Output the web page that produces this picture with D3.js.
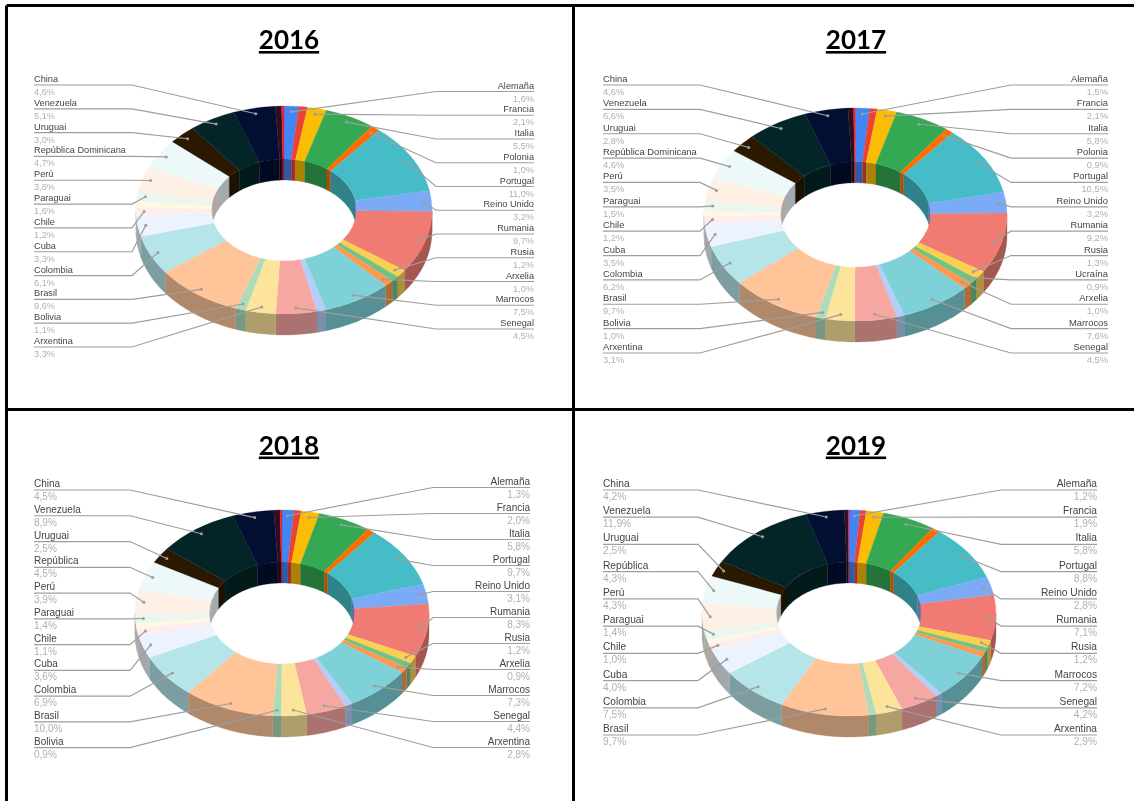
<!DOCTYPE html>
<html>
<head>
<meta charset="utf-8">
<script src="https://cdn.jsdelivr.net/npm/d3@7/dist/d3.min.js"></script>
<style>
  html, body { margin: 0; padding: 0; background: #fff; }
  svg { display: block; filter: blur(0.4px); }
  text { font-family: "Liberation Sans", Arial, sans-serif; }
  .title { font-family: Lato, sans-serif; font-weight: 700; font-size: 26px; text-decoration: underline; fill: #000; }
</style>
</head>
<body>
<svg id="chart" width="1134" height="801"></svg>
<script>
// Slices in drawing order. Slices without a name in the picture have a placeholder.
const categories = ["Alemaña","(sen etiqueta 1)","Francia","Italia","Polonia","Portugal","Reino Unido","Rumania","Rusia","Ucraína","Arxelia","Marrocos","(sen etiqueta 2)","Senegal","Arxentina","Bolivia","Brasil","Colombia","Cuba","Chile","(sen etiqueta 3)","Paraguai","Perú","República Dominicana","Uruguai","Venezuela","China","(sen etiqueta 4)","(sen etiqueta 5)"];
const sliceColors = ["#4285F4","#EA4335","#FBBC04","#34A853","#FF6D01","#46BDC6","#7BAAF7","#F07B72","#FCD04F","#71C287","#FF994D","#7ED1D7","#B3CEFB","#F7A7A1","#FDE49B","#AEDCBA","#FFC599","#B5E5E8","#ECF3FE","#FEEDEC","#FFF8E3","#EAF6EE","#FFF0E6","#EDF8F9","#2A1800","#042527","#020F33","#2E0F1E","#E8203A"];

const values2016 = [1.6,0.95,2.1,5.5,1.0,11.0,3.2,9.7,1.2,0.9,1.0,7.5,1.0,4.5,3.3,1.1,9.6,6.1,3.3,1.2,1.0,1.6,3.8,4.7,3.0,5.1,4.6,0.7,0.25];
const values2017 = [1.5,0.8,2.1,5.8,0.9,10.5,3.2,9.2,1.3,0.9,1.0,7.6,0.8,4.5,3.1,1.0,9.7,6.2,3.5,1.2,0.8,1.5,3.5,4.6,2.8,6.6,4.6,0.6,0.2];
const values2018 = [1.3,0.8,2.0,5.8,0.9,9.7,3.1,8.3,1.2,0.8,0.9,7.3,0.8,4.4,2.8,0.9,10.0,6.9,3.6,1.1,0.8,1.4,3.9,4.5,2.5,8.9,4.5,0.7,0.2];
const values2019 = [1.2,0.7,1.9,5.8,0.9,8.8,2.8,7.1,1.2,0.7,0.8,7.2,0.7,4.2,2.9,0.8,9.7,7.5,4.0,1.0,0.7,1.4,4.3,4.3,2.5,11.9,4.2,0.4,0.1];

const rightLabels2016 = ["Alemaña","Francia","Italia","Polonia","Portugal","Reino Unido","Rumania","Rusia","Arxelia","Marrocos","Senegal"];
const leftLabels2016  = ["China","Venezuela","Uruguai","República Dominicana","Perú","Paraguai","Chile","Cuba","Colombia","Brasil","Bolivia","Arxentina"];
const rightLabels2017 = ["Alemaña","Francia","Italia","Polonia","Portugal","Reino Unido","Rumania","Rusia","Ucraína","Arxelia","Marrocos","Senegal"];
const leftLabels2017  = ["China","Venezuela","Uruguai","República Dominicana","Perú","Paraguai","Chile","Cuba","Colombia","Brasil","Bolivia","Arxentina"];
const rightLabels2018 = ["Alemaña","Francia","Italia","Portugal","Reino Unido","Rumania","Rusia","Arxelia","Marrocos","Senegal","Arxentina"];
const leftLabels2018  = ["China","Venezuela","Uruguai","República","Perú","Paraguai","Chile","Cuba","Colombia","Brasil","Bolivia"];
const rightLabels2019 = ["Alemaña","Francia","Italia","Portugal","Reino Unido","Rumania","Rusia","Marrocos","Senegal","Arxentina"];
const leftLabels2019  = ["China","Venezuela","Uruguai","República","Perú","Paraguai","Chile","Cuba","Colombia","Brasil"];

// Layout of each panel (no data here).
const panels = [
  {year:"2016", values:values2016, right:rightLabels2016, left:leftLabels2016, titleX:289, titleY:49, font:9.2,
   cx:284, cy:210, rx:148, ry:104, inner:0.49, depth:21,
   leftX:34, leftElbow:132, rightX:534, rightElbow:436, leftY:[85,347], rightY:[91.5,329]},
  {year:"2017", values:values2017, right:rightLabels2017, left:leftLabels2017, titleX:856, titleY:49, font:9.4,
   cx:855.5, cy:214.5, rx:151.5, ry:106.5, inner:0.495, depth:21,
   leftX:603, leftElbow:700, rightX:1108, rightElbow:1011, leftY:[85,353], rightY:[85,353]},
  {year:"2018", values:values2018, right:rightLabels2018, left:leftLabels2018, titleX:289, titleY:454.5, font:10,
   cx:282, cy:613, rx:147, ry:103, inner:0.495, depth:21,
   leftX:34, leftElbow:130, rightX:530, rightElbow:433, leftY:[490,747.7], rightY:[487.5,747.5]},
  {year:"2019", values:values2019, right:rightLabels2019, left:leftLabels2019, titleX:856, titleY:454.5, font:10.2,
   cx:849, cy:613, rx:147, ry:103, inner:0.495, depth:21,
   leftX:603, leftElbow:698, rightX:1097, rightElbow:1001, leftY:[490,735], rightY:[490,735]}
];

const svg = d3.select("#chart");
const wallShade = 0.69;
const shade = c => { const k = d3.rgb(c); return d3.rgb(k.r*wallShade, k.g*wallShade, k.b*wallShade).formatHex(); };
const fmt = v => d3.format(".1f")(v).replace(".", ",") + "%";
const pie = d3.pie().sort(null).value(d => d.value).startAngle(0).endAngle(2*Math.PI);

function drawPanel(p) {
  const g = svg.append("g");
  const data = categories.map((name,i) => ({name, value:p.values[i], color:sliceColors[i]}));
  const arcs = pie(data);

  // Unit-circle coordinates projected onto the tilted disc.
  const sx = d3.scaleLinear().domain([-1,1]).range([p.cx-p.rx, p.cx+p.rx]);
  const sy = d3.scaleLinear().domain([-1,1]).range([p.cy-p.ry, p.cy+p.ry]);
  const px = (a,r) => sx(r*Math.sin(a));
  const py = (a,r) => sy(-r*Math.cos(a));

  // A band along one ring between two angles, extruded downwards.
  const band = (a0,a1,r) => {
    const n = Math.max(2, Math.ceil((a1-a0)/0.02));
    const pts = d3.range(n+1).map(i => a0+(a1-a0)*i/n);
    const top = pts.map(a => [px(a,r), py(a,r)]);
    const bot = pts.slice().reverse().map(a => [px(a,r), py(a,r)+p.depth]);
    return d3.line()(top.concat(bot)) + "Z";
  };
  const clipRange = (d,lo,hi) => {
    const a0 = Math.max(d.startAngle,lo), a1 = Math.min(d.endAngle,hi);
    return a1>a0 ? [a0,a1] : null;
  };

  // Outer wall: front half of the disc.
  g.append("g").selectAll("path")
    .data(arcs.filter(d => clipRange(d,Math.PI/2,3*Math.PI/2)))
    .join("path")
    .attr("d", d => { const [a,b] = clipRange(d,Math.PI/2,3*Math.PI/2); return band(a,b,1); })
    .attr("fill", d => shade(d.data.color))
    .attr("stroke", d => shade(d.data.color)).attr("stroke-width",0.3);

  // Inner wall: back half of the hole.
  const backRanges = [[0,Math.PI/2],[3*Math.PI/2,2*Math.PI]];
  backRanges.forEach(([lo,hi]) => {
    g.append("g").selectAll("path")
      .data(arcs.filter(d => clipRange(d,lo,hi)))
      .join("path")
      .attr("d", d => { const [a,b] = clipRange(d,lo,hi); return band(a,b,p.inner); })
      .attr("fill", d => shade(d.data.color))
      .attr("stroke", d => shade(d.data.color)).attr("stroke-width",0.3);
  });

  // Top face, drawn with d3.arc on a unit circle and squashed.
  const arc = d3.arc().innerRadius(p.inner).outerRadius(1);
  g.append("g")
    .attr("transform", `translate(${p.cx},${p.cy}) scale(${p.rx},${p.ry})`)
    .selectAll("path")
    .data(arcs)
    .join("path")
    .attr("d", arc)
    .attr("fill", d => d.data.color)
    .attr("stroke", d => d.data.color)
    .attr("stroke-width",0.3)
    .attr("vector-effect","non-scaling-stroke");

  // Leader lines and labels.
  const byName = name => arcs.find(d => d.data.name.startsWith(name));
  const column = (names, yRange, edgeX, elbowX, anchor) => {
    const yPos = d3.scaleLinear().domain([0,names.length-1]).range(yRange);
    names.forEach((name,i) => {
      const d = byName(name);
      const mid = (d.startAngle+d.endAngle)/2;
      const y = yPos(i);
      const dx = px(mid,0.945), dy = py(mid,0.945);
      g.append("path")
        .attr("d", d3.line()([[edgeX,y],[elbowX,y],[dx,dy]]))
        .attr("fill","none").attr("stroke","#9e9e9e").attr("stroke-width",1.2);
      g.append("circle").attr("cx",dx).attr("cy",dy).attr("r",1.5).attr("fill","#9e9e9e");
      g.append("text").attr("x",edgeX).attr("y",y-3).attr("text-anchor",anchor)
        .attr("font-size",p.font).attr("fill","#444").text(name);
      g.append("text").attr("x",edgeX).attr("y",y+10).attr("text-anchor",anchor)
        .attr("font-size",p.font).attr("fill","#b0b0b0").text(fmt(d.data.value));
    });
  };
  column(p.right, p.rightY, p.rightX, p.rightElbow, "end");
  column(p.left, p.leftY, p.leftX, p.leftElbow, "start");

  svg.append("text").attr("class","title")
    .attr("x",p.titleX).attr("y",p.titleY).attr("text-anchor","middle").text(p.year);
}
panels.forEach(drawPanel);

// Panel frame.
const frame = [[[6.5,5.5],[1134,5.5]],[[6.5,5.5],[6.5,801]],[[573.5,5.5],[573.5,801]],[[6.5,409.5],[1134,409.5]]];
svg.append("g").selectAll("path").data(frame).join("path")
  .attr("d", d => d3.line()(d)).attr("stroke","#000").attr("stroke-width",3).attr("fill","none");
</script>
</body>
</html>
